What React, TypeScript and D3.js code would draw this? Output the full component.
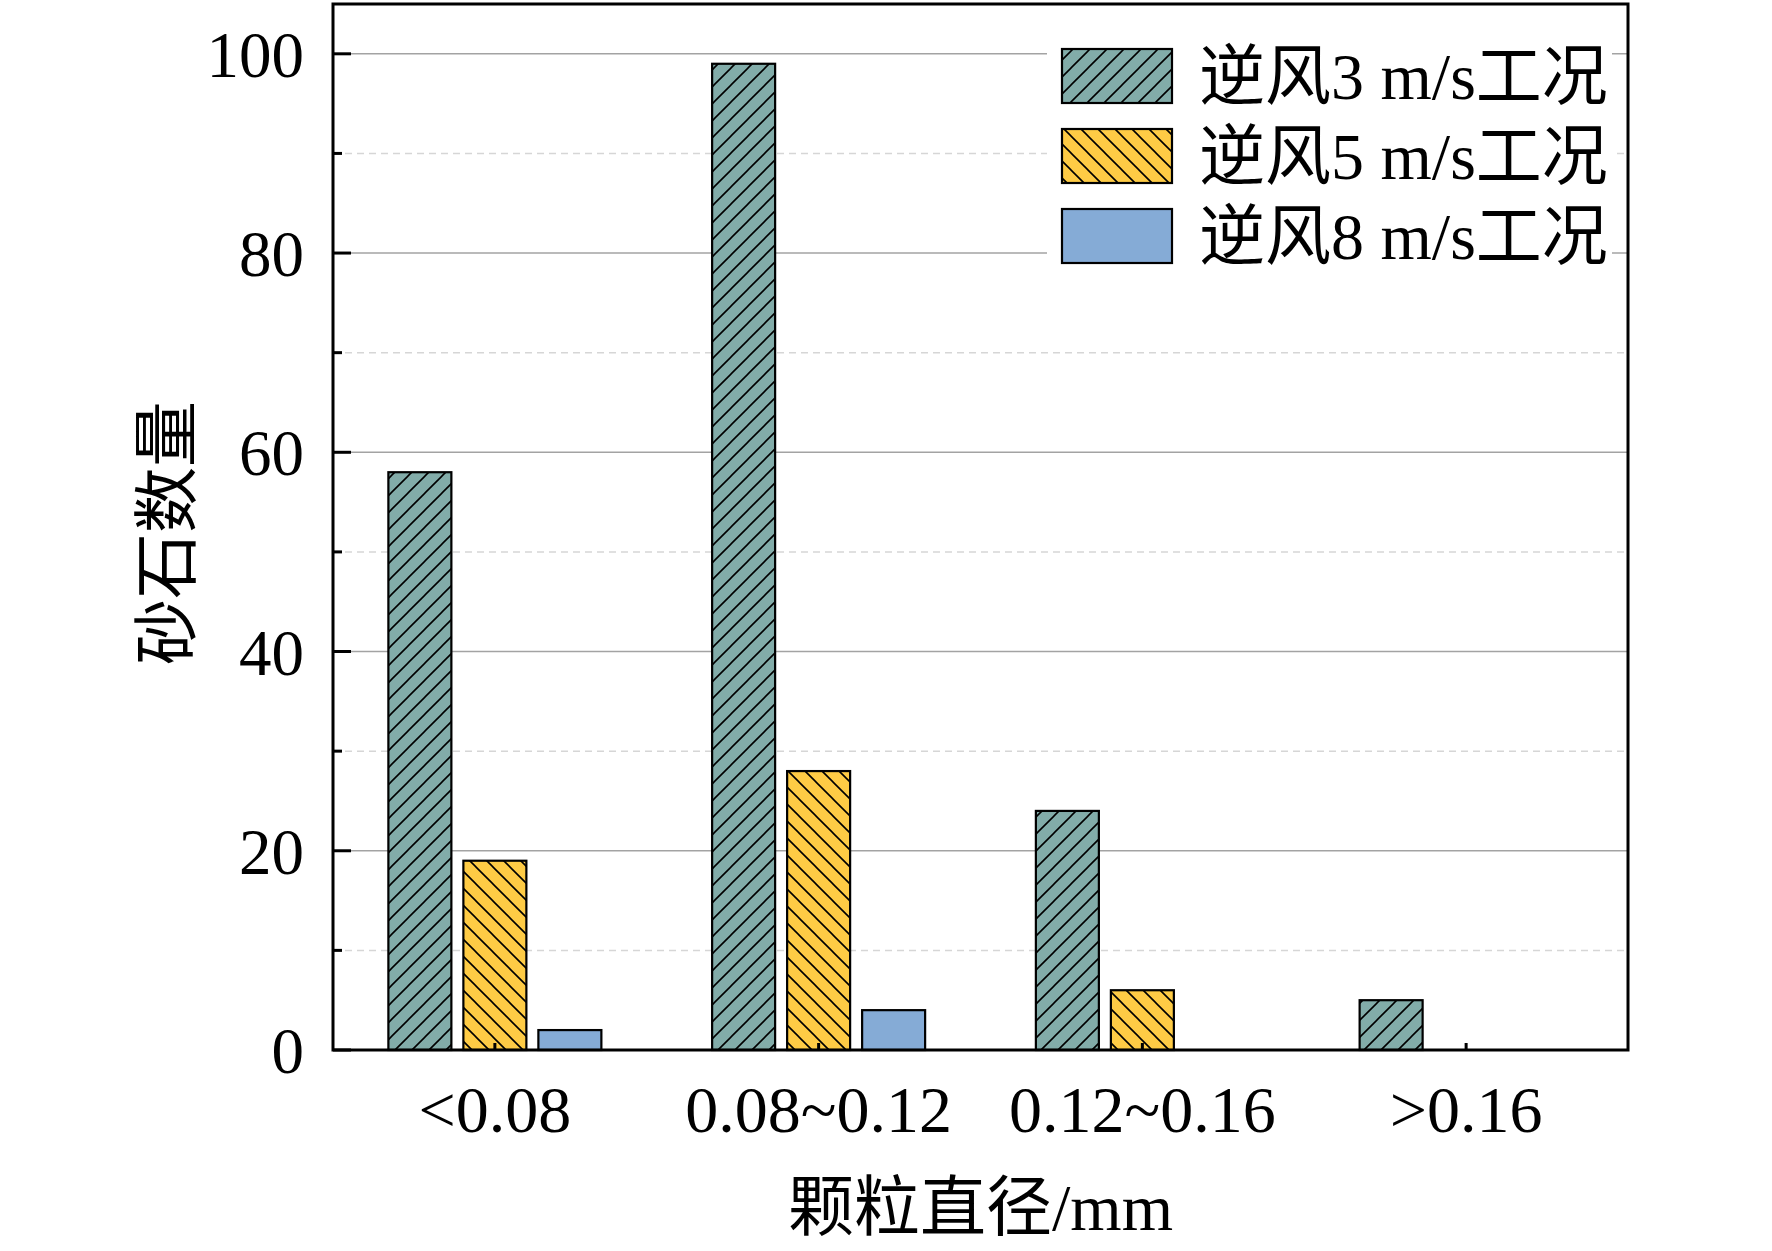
import React from 'react';
import * as d3 from 'd3';

const categories = ['<0.08', '0.08~0.12', '0.12~0.16', '>0.16'];
const seriesNames = ['逆风3 m/s工况', '逆风5 m/s工况', '逆风8 m/s工况'];
const wind3 = [58, 99, 24, 5];
const wind5 = [19, 28, 6, 0];
const wind8 = [2, 4, 0, 0];
const yTicks = [0, 20, 40, 60, 80, 100];
const yMinor = [10, 30, 50, 70, 90];

const seriesValues = [wind3, wind5, wind8];
const fills = ['url(#hatchTeal)', 'url(#hatchYellow)', '#85abd6'];

const W = 1772;
const H = 1251;
const left = 333;
const right = 1628;
const top = 4;
const bottom = 1050;

const serif = '"Liberation Serif", "Times New Roman", "Noto Sans CJK SC", serif';

export default function App() {
  const x0 = d3.scaleBand<string>().domain(categories).range([left, right]).padding(0);
  const groupW = 213;
  const x1 = d3.scaleBand<number>().domain([0, 1, 2]).range([0, groupW]).paddingInner(0.16).paddingOuter(0);
  const y = d3.scaleLinear().domain([0, 105]).range([bottom, top]);

  const barX = (ci: number, si: number) =>
    (x0(categories[ci]) as number) + (x0.bandwidth() - groupW) / 2 + (x1(si) as number);

  const p = 17;

  return (
    <svg width={W} height={H} style={{ position: 'absolute', left: 0, top: 0, background: '#fff' }}>
      <defs>
        <pattern id="hatchTeal" patternUnits="userSpaceOnUse" width={p} height={p}>
          <rect width={p} height={p} fill="#82aca9" />
          <path
            d={`M0,${p} L${p},0 M${-p / 4},${p / 4} L${p / 4},${-p / 4} M${(3 * p) / 4},${(5 * p) / 4} L${(5 * p) / 4},${(3 * p) / 4}`}
            stroke="#000" strokeWidth={1.6} />
        </pattern>
        <pattern id="hatchYellow" patternUnits="userSpaceOnUse" width={p} height={p}>
          <rect width={p} height={p} fill="#fecb45" />
          <path
            d={`M0,0 L${p},${p} M${-p / 4},${(3 * p) / 4} L${p / 4},${(5 * p) / 4} M${(3 * p) / 4},${-p / 4} L${(5 * p) / 4},${p / 4}`}
            stroke="#000" strokeWidth={1.6} />
        </pattern>
      </defs>

      {/* grid */}
      {yMinor.map(v => (
        <line key={'m' + v} x1={left} x2={right} y1={y(v)} y2={y(v)}
          stroke="#d6d6d6" strokeWidth={1.5} strokeDasharray="7,5" />
      ))}
      {yTicks.filter(v => v > 0).map(v => (
        <line key={'g' + v} x1={left} x2={right} y1={y(v)} y2={y(v)} stroke="#a3a3a3" strokeWidth={1.6} />
      ))}

      {/* bars */}
      {seriesValues.map((vals, si) =>
        vals.map((v, ci) =>
          v > 0 ? (
            <rect key={`b${si}-${ci}`} x={barX(ci, si)} y={y(v)} width={x1.bandwidth()} height={bottom - y(v)}
              fill={fills[si]} stroke="#000" strokeWidth={2.2} />
          ) : null
        )
      )}

      {/* legend */}
      <rect x={1047} y={25} width={565} height={265} fill="#fff" />
      {seriesNames.map((name, i) => (
        <g key={name}>
          <rect x={1062} y={49 + i * 80} width={110} height={54} fill={fills[i]} stroke="#000" strokeWidth={2.2} />
          <text x={1199} y={99 + i * 80} fontFamily={serif} fontSize={66} fill="#000">{name}</text>
        </g>
      ))}

      {/* frame */}
      <rect x={left} y={top} width={right - left} height={bottom - top} fill="none" stroke="#000" strokeWidth={3} />

      {/* y ticks */}
      {yTicks.map(v => (
        <g key={'t' + v}>
          <line x1={left} x2={left + 18} y1={y(v)} y2={y(v)} stroke="#000" strokeWidth={3} />
          <text x={304} y={y(v) + 23} textAnchor="end" fontFamily={serif} fontSize={65}>{v}</text>
        </g>
      ))}
      {yMinor.map(v => (
        <line key={'mt' + v} x1={left} x2={left + 9} y1={y(v)} y2={y(v)} stroke="#000" strokeWidth={3} />
      ))}

      {/* x ticks */}
      {categories.map(c => {
        const cx = (x0(c) as number) + x0.bandwidth() / 2;
        return (
          <g key={c}>
            <line x1={cx} x2={cx} y1={bottom} y2={bottom - 7} stroke="#000" strokeWidth={3} />
            <text x={cx} y={1132} textAnchor="middle" fontFamily={serif} fontSize={66}>{c}</text>
          </g>
        );
      })}

      {/* axis titles */}
      <text x={(left + right) / 2} y={1230} textAnchor="middle" fontFamily={serif} fontSize={66}>颗粒直径/mm</text>
      <text transform={`translate(167,533) rotate(-90)`} textAnchor="middle" dominantBaseline="central"
        fontFamily={serif} fontSize={66}>砂石数量</text>
    </svg>
  );
}
